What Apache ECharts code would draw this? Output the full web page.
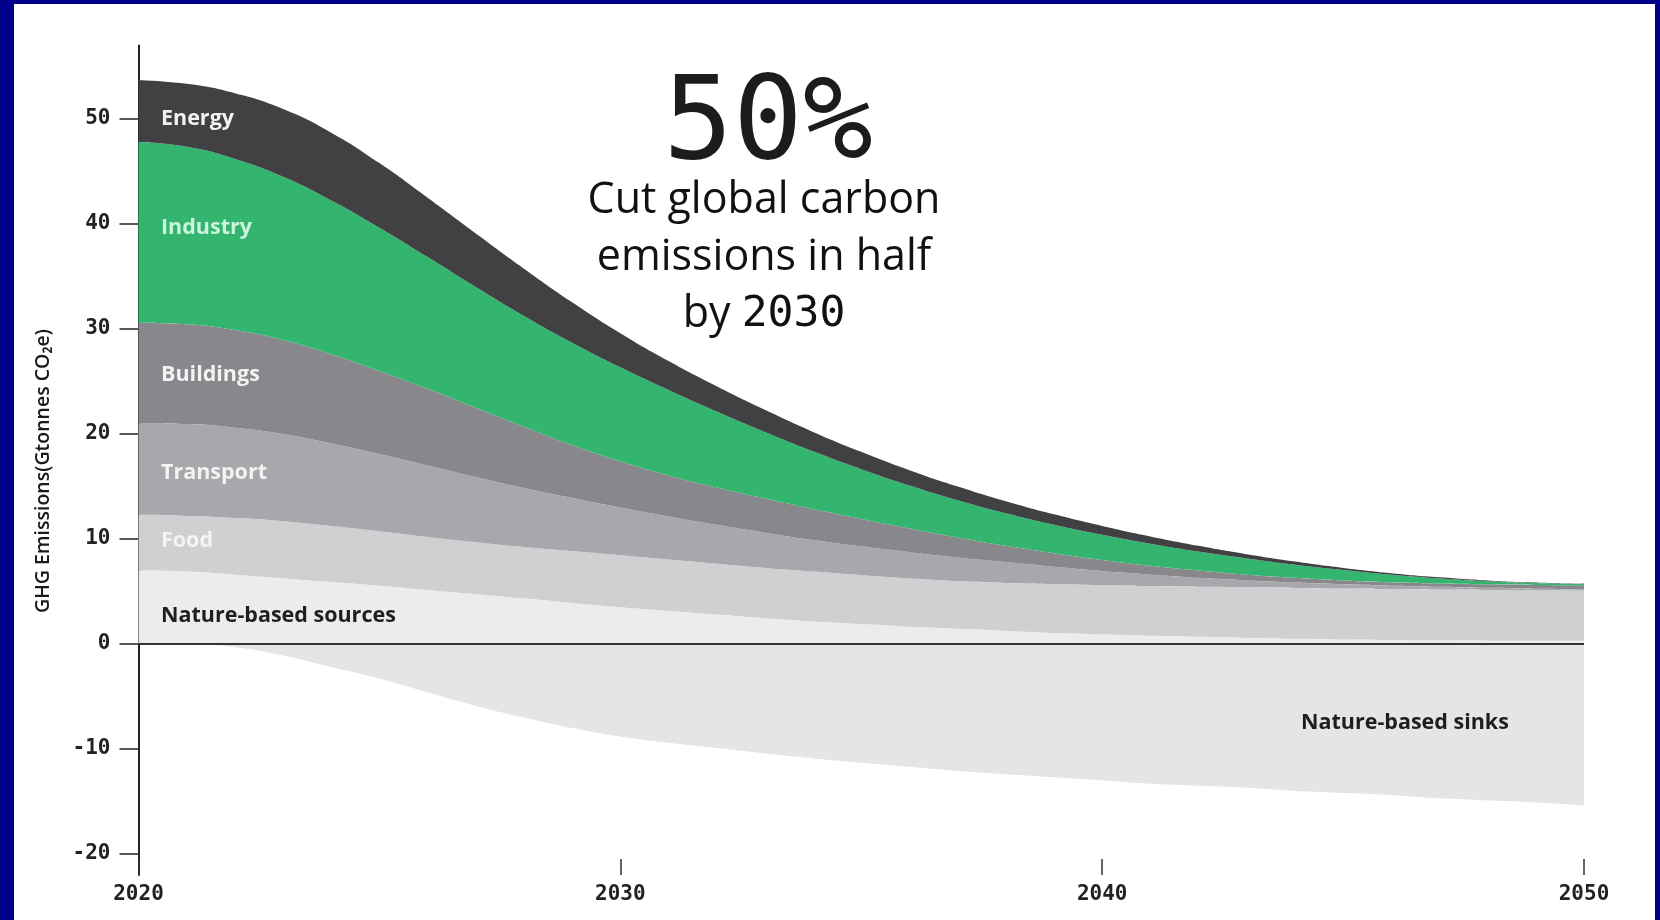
<!DOCTYPE html>
<html><head><meta charset="utf-8">
<script src="https://cdn.jsdelivr.net/npm/echarts@6/dist/echarts.min.js"></script>
<style>html,body{margin:0;padding:0;background:#fff;}#c{width:1660px;height:920px;}</style>
</head><body><div id="c"></div>
<script>
// ---- data (Gt CO2e per year) ----
const years = ['2020','2021','2022','2023','2024','2025','2026','2027','2028','2029','2030','2031','2032','2033','2034','2035','2036','2037','2038','2039','2040','2041','2042','2043','2044','2045','2046','2047','2048','2049','2050'];
const natureSources = [7.0,6.9,6.6,6.25,5.9,5.55,5.15,4.75,4.35,3.9,3.5,3.15,2.8,2.45,2.15,1.9,1.65,1.45,1.25,1.05,0.9,0.78,0.68,0.58,0.5,0.43,0.38,0.35,0.32,0.3,0.3];
const food          = [5.3,5.3,5.4,5.45,5.35,5.2,5.05,4.95,4.9,4.95,4.95,4.9,4.85,4.8,4.75,4.65,4.6,4.55,4.57,4.65,4.7,4.74,4.78,4.82,4.84,4.85,4.85,4.84,4.83,4.82,4.8];
const transport     = [8.7,8.75,8.6,8.3,7.85,7.35,6.8,6.2,5.6,5.05,4.55,4.1,3.7,3.35,3.0,2.75,2.5,2.25,1.98,1.65,1.35,1.08,0.84,0.65,0.51,0.4,0.32,0.26,0.2,0.15,0.1];
const buildings     = [9.6,9.5,9.3,8.95,8.5,7.9,7.3,6.6,5.85,5.05,4.4,3.9,3.55,3.25,2.95,2.6,2.25,1.9,1.55,1.3,1.05,0.85,0.7,0.55,0.45,0.37,0.33,0.31,0.33,0.36,0.4];
const industry      = [17.2,16.9,16.3,15.55,14.65,13.65,12.55,11.5,10.55,9.75,8.95,8.15,7.25,6.35,5.5,4.75,4.1,3.55,3.1,2.7,2.4,2.1,1.8,1.55,1.25,1.0,0.72,0.49,0.3,0.17,0.1];
const energy        = [5.9,6.0,6.25,6.45,6.45,6.15,5.65,5.1,4.5,3.85,3.25,2.75,2.4,2.1,1.85,1.65,1.45,1.3,1.15,1.0,0.85,0.7,0.55,0.4,0.3,0.2,0.15,0.1,0.07,0.05,0.05];
const natureSinks   = [0,0,-0.3,-1.1,-2.2,-3.3,-4.6,-5.9,-7.0,-8.0,-8.8,-9.4,-9.9,-10.4,-10.9,-11.3,-11.7,-12.1,-12.4,-12.7,-13.0,-13.3,-13.5,-13.7,-14.0,-14.2,-14.4,-14.7,-14.9,-15.1,-15.4];
const yTicks = [-20,-10,0,10,20,30,40,50];
const xTickLabels = ['2020','2030','2040','2050'];
const layerNames = ['Nature-based sources','Food','Transport','Buildings','Industry','Energy'];

const chart = echarts.init(document.getElementById('c'), null, {renderer:'canvas'});

function area(name, vals, color, stack, z) {
  return {
    name: name, type: 'line', stack: stack, smooth: 0.5, symbol: 'none', showSymbol: false,
    lineStyle: {width: 0}, areaStyle: {color: color, opacity: 1}, itemStyle: {color: color},
    data: vals.slice(), z: z || 2, silent: true
  };
}

const labelFont = '"Open Sans", "Noto Sans", sans-serif';
const monoFont = '"DejaVu Sans Mono", monospace';

const series = [
  area(layerNames[0], natureSources, '#ececed', 'pos'),
  area(layerNames[1], food, '#d0d0d3', 'pos'),
  area(layerNames[2], transport, '#a8a8ac', 'pos'),
  area(layerNames[3], buildings, '#88888c', 'pos'),
  area(layerNames[4], industry, '#33b56f', 'pos'),
  area(layerNames[5], energy, '#414143', 'pos'),
  Object.assign(area('Nature-based sinks', natureSinks, '#e5e5e7', 'neg', 3), {
    markLine: {symbol: 'none', silent: true, label: {show: false},
      lineStyle: {color: '#333', width: 2, type: 'solid'}, data: [{yAxis: 0}]}
  })
];

function txt(text, x, y, color, extra) {
  return Object.assign({type: 'text', x: x, y: y, z: 50, silent: true,
    style: {text: text, fill: color, font: 'bold 21.5px ' + labelFont, textAlign: 'left', textVerticalAlign: 'middle'}}, extra || {});
}

const showYear = (idx, value) => xTickLabels.indexOf(String(value)) >= 0;

chart.setOption({
  animation: false,
  backgroundColor: '#ffffff',
  grid: {left: 138.5, right: 76, top: 45.5, bottom: 45, containLabel: false, outerBoundsMode: 'none'},
  xAxis: {
    type: 'category', data: years, boundaryGap: false, position: 'bottom',
    axisLine: {show: false, onZero: false}, splitLine: {show: false},
    axisTick: {show: true, inside: true, length: 16, interval: showYear, lineStyle: {color: '#333', width: 1.5}},
    axisLabel: {margin: 9, color: '#222', fontFamily: monoFont, fontWeight: 'bold', fontSize: 21, interval: showYear}
  },
  yAxis: {
    type: 'value', min: -22, max: 57, splitLine: {show: false},
    axisLine: {show: true, onZero: false, lineStyle: {color: '#222', width: 2}},
    axisTick: {show: true, length: 19, customValues: yTicks, lineStyle: {color: '#222', width: 1.5}},
    axisLabel: {customValues: yTicks, margin: 28, color: '#222', fontFamily: monoFont, fontWeight: 'bold', fontSize: 21}
  },
  series: series,
  graphic: [
    {type: 'rect', shape: {x: 0, y: 0, width: 14, height: 920}, style: {fill: '#00008a'}, z: 100, silent: true},
    {type: 'rect', shape: {x: 0, y: 0, width: 1660, height: 4}, style: {fill: '#00008a'}, z: 100, silent: true},
    {type: 'rect', shape: {x: 1655, y: 0, width: 5, height: 920}, style: {fill: '#00008a'}, z: 100, silent: true},
    txt('Energy', 161, 119, '#f2f2f2'),
    txt('Industry', 161, 228, '#cdf5de'),
    txt('Buildings', 161, 375, '#f3f3f3'),
    txt('Transport', 161, 473, '#f3f3f3'),
    txt('Food', 161, 541, '#f4f4f5'),
    txt('Nature-based sources', 161, 616, '#1e1e1e'),
    txt('Nature-based sinks', 1301, 723, '#1e1e1e'),
    {type: 'text', x: 768, y: 128, z: 50, silent: true,
      style: {text: '50%', fill: '#1c1c1c', font: '116px ' + monoFont, textAlign: 'center', textVerticalAlign: 'middle'}},
    {type: 'text', x: 764, y: 258, z: 50, silent: true,
      style: {text: 'Cut global carbon\nemissions in half\n{a|by }{m|2030}', fill: '#111', font: '43px ' + labelFont,
        textAlign: 'center', textVerticalAlign: 'middle', lineHeight: 57,
        rich: {a: {fontFamily: labelFont, fontSize: 43, fill: '#111', lineHeight: 57},
               m: {fontFamily: monoFont, fontSize: 43, fill: '#111', lineHeight: 57}}}},
    {type: 'text', x: 43, y: 471, rotation: Math.PI / 2, z: 50, silent: true,
      style: {text: 'GHG Emissions(Gtonnes CO₂e)', fill: '#1a1a1a', font: '600 19.5px ' + labelFont,
        textAlign: 'center', textVerticalAlign: 'middle'}}
  ]
});
</script>
</body></html>
